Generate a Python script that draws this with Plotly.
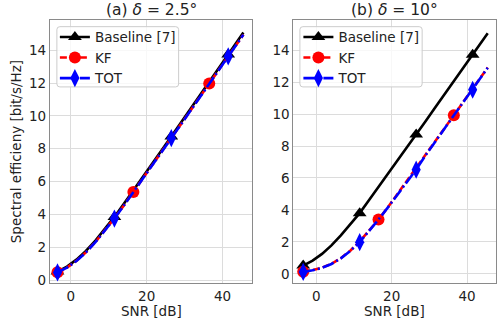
import plotly.graph_objects as go

# ---------------- data ----------------
snr_db = [-3.5, -1, 1.5, 4, 6.5, 9, 11.5, 14, 16.5, 19, 21.5, 24, 26.5,
          29, 31.5, 34, 36.5, 39, 41.5, 44, 45.5]

# panel (a) delta = 2.5 deg
a_baseline = [0.52, 0.83, 1.25, 1.78, 2.41, 3.10, 3.85, 4.65, 5.45, 6.27, 7.09,
              7.92, 8.75, 9.57, 10.41, 11.24, 12.07, 12.90, 13.73, 14.57, 15.07]
a_kf = [0.48, 0.77, 1.18, 1.70, 2.32, 3.02, 3.77, 4.55, 5.36, 6.17, 6.99,
        7.82, 8.65, 9.47, 10.30, 11.14, 11.97, 12.80, 13.63, 14.46, 14.95]
a_tot = [0.47, 0.76, 1.17, 1.69, 2.31, 3.01, 3.75, 4.54, 5.35, 6.16, 6.98,
         7.81, 8.64, 9.46, 10.29, 11.13, 11.96, 12.79, 13.62, 14.45, 14.94]

# panel (b) delta = 10 deg
b_baseline = [0.52, 0.83, 1.25, 1.78, 2.41, 3.10, 3.80, 4.62, 5.43, 6.25, 7.07,
              7.90, 8.72, 9.55, 10.39, 11.22, 12.05, 12.88, 13.71, 14.55, 15.05]
b_kf = [0.13, 0.23, 0.39, 0.63, 0.98, 1.45, 2.03, 2.69, 3.40, 4.17, 4.98,
        5.79, 6.61, 7.43, 8.26, 9.09, 9.92, 10.75, 11.58, 12.41, 12.91]
b_tot = [0.12, 0.22, 0.38, 0.62, 0.97, 1.44, 1.98, 2.66, 3.40, 4.16, 4.97,
         5.78, 6.52, 7.42, 8.25, 9.08, 9.91, 10.74, 11.52, 12.40, 12.90]

# indices of points that carry markers (markevery)
mark_baseline = [0, 6, 12, 18]
mark_kf = [0, 8, 16]
mark_tot = [0, 6, 12, 18]

series_names = ["Baseline [7]", "KF", "TOT"]
titles = ["(a) <i>δ</i> = 2.5°", "(b) <i>δ</i> = 10°"]
x_title = "SNR [dB]"
y_title = "Spectral efficieny [bit/s/Hz]"
x_ticks = [0, 20, 40]
y_ticks = [0, 2, 4, 6, 8, 10, 12, 14]

# ---------------- styling ----------------
W, H = 497, 324
FONT = "DejaVu Sans"
FS = 13.5
styles = [
    dict(color="black", dash="solid", symbol="triangle-up", size=12, marks=mark_baseline),
    dict(color="red", dash="7px,3px", symbol="circle", size=12, marks=mark_kf),
    dict(color="blue", dash="12px,3px,2px,3px", symbol="diamond-tall", size=13, marks=mark_tot),
]
panels = [
    dict(data=[a_baseline, a_kf, a_tot], xa="x", ya="y", legend="legend"),
    dict(data=[b_baseline, b_kf, b_tot], xa="x2", ya="y2", legend="legend2"),
]

fig = go.Figure()
for p in panels:
    for name, ys, st in zip(series_names, p["data"], styles):
        fig.add_trace(go.Scatter(
            x=snr_db, y=ys, mode="lines", xaxis=p["xa"], yaxis=p["ya"],
            line=dict(color=st["color"], width=2.6, dash=st["dash"]),
            showlegend=False, hoverinfo="skip"))
        fig.add_trace(go.Scatter(
            x=[snr_db[i] for i in st["marks"]], y=[ys[i] for i in st["marks"]],
            mode="markers", xaxis=p["xa"], yaxis=p["ya"],
            marker=dict(color=st["color"], symbol=st["symbol"], size=st["size"],
                        line=dict(width=0)),
            showlegend=False))
        fig.add_trace(go.Scatter(
            x=[None], y=[None], mode="lines+markers", name=name,
            xaxis=p["xa"], yaxis=p["ya"], legend=p["legend"],
            line=dict(color=st["color"], width=2.6, dash=st["dash"]),
            marker=dict(color=st["color"], symbol=st["symbol"], size=st["size"])))


def frame_path(x0, y0, x1, y1, r=3):
    """rounded legend frame, pixel box -> paper-coordinate SVG path"""
    fx = lambda v: v / W
    fy = lambda v: 1 - v / H
    return (f"M {fx(x0 + r)},{fy(y0)} L {fx(x1 - r)},{fy(y0)} "
            f"Q {fx(x1)},{fy(y0)} {fx(x1)},{fy(y0 + r)} L {fx(x1)},{fy(y1 - r)} "
            f"Q {fx(x1)},{fy(y1)} {fx(x1 - r)},{fy(y1)} L {fx(x0 + r)},{fy(y1)} "
            f"Q {fx(x0)},{fy(y1)} {fx(x0)},{fy(y1 - r)} L {fx(x0)},{fy(y0 + r)} "
            f"Q {fx(x0)},{fy(y0)} {fx(x0 + r)},{fy(y0)} Z")


frames = [dict(type="path", xref="paper", yref="paper", layer="above",
               path=frame_path(*box), fillcolor="rgba(255,255,255,0.8)",
               line=dict(color="#cccccc", width=1))
          for box in [(57, 27, 179, 88), (300.5, 27, 423, 88)]]

axis_common = dict(
    showgrid=True, gridcolor="#dcdcdc", gridwidth=1,
    showline=True, linecolor="#8a8a8a", linewidth=1, mirror=True,
    zeroline=False, ticks="",
    tickfont=dict(family=FONT, size=FS, color="#222"),
)
legend_common = dict(
    xanchor="left", yanchor="top", itemwidth=30,
    bgcolor="rgba(0,0,0,0)", borderwidth=0,
    font=dict(family=FONT, size=FS, color="#222"), tracegroupgap=0,
)
y_bottom, y_top = 37 / H, 304 / H
title_font = dict(family=FONT, size=15.5, color="#222")
axis_title_font = dict(family=FONT, size=FS, color="#222")
fig.update_layout(
    width=W, height=H,
    margin=dict(l=0, r=0, t=0, b=0),
    paper_bgcolor="white", plot_bgcolor="white",
    font=dict(family=FONT, size=FS, color="#222"),
    xaxis=dict(domain=[50 / W, 253 / W], range=[-5.5, 47.9], tickvals=x_ticks,
               anchor="y", **axis_common),
    yaxis=dict(domain=[y_bottom, y_top], range=[-0.2, 15.85], tickvals=y_ticks,
               title=dict(text=y_title, font=axis_title_font, standoff=4),
               anchor="x", **axis_common),
    xaxis2=dict(domain=[294 / W, 1.0], range=[-6.1, 47.7], tickvals=x_ticks,
                anchor="y2", **axis_common),
    yaxis2=dict(domain=[y_bottom, y_top], range=[-0.6, 15.9], tickvals=y_ticks,
                anchor="x2", **axis_common),
    legend=dict(x=55 / W, y=(H - 22) / H, **legend_common),
    legend2=dict(x=299 / W, y=(H - 22) / H, **legend_common),
    shapes=frames,
    annotations=[
        dict(text=titles[0], x=151.5 / W, y=1 - 10 / H, xref="paper", yref="paper",
             showarrow=False, font=title_font, xanchor="center", yanchor="middle"),
        dict(text=titles[1], x=395.5 / W, y=1 - 10 / H, xref="paper", yref="paper",
             showarrow=False, font=title_font, xanchor="center", yanchor="middle"),
        dict(text=x_title, x=151.5 / W, y=1 - 314.5 / H, xref="paper", yref="paper",
             showarrow=False, font=axis_title_font, xanchor="center", yanchor="middle"),
        dict(text=x_title, x=395.5 / W, y=1 - 314.5 / H, xref="paper", yref="paper",
             showarrow=False, font=axis_title_font, xanchor="center", yanchor="middle"),
    ],
)

fig.write_html("out.html", config={"displayModeBar": False},
               post_script="document.body.style.margin='0';document.body.style.overflow='hidden';")
